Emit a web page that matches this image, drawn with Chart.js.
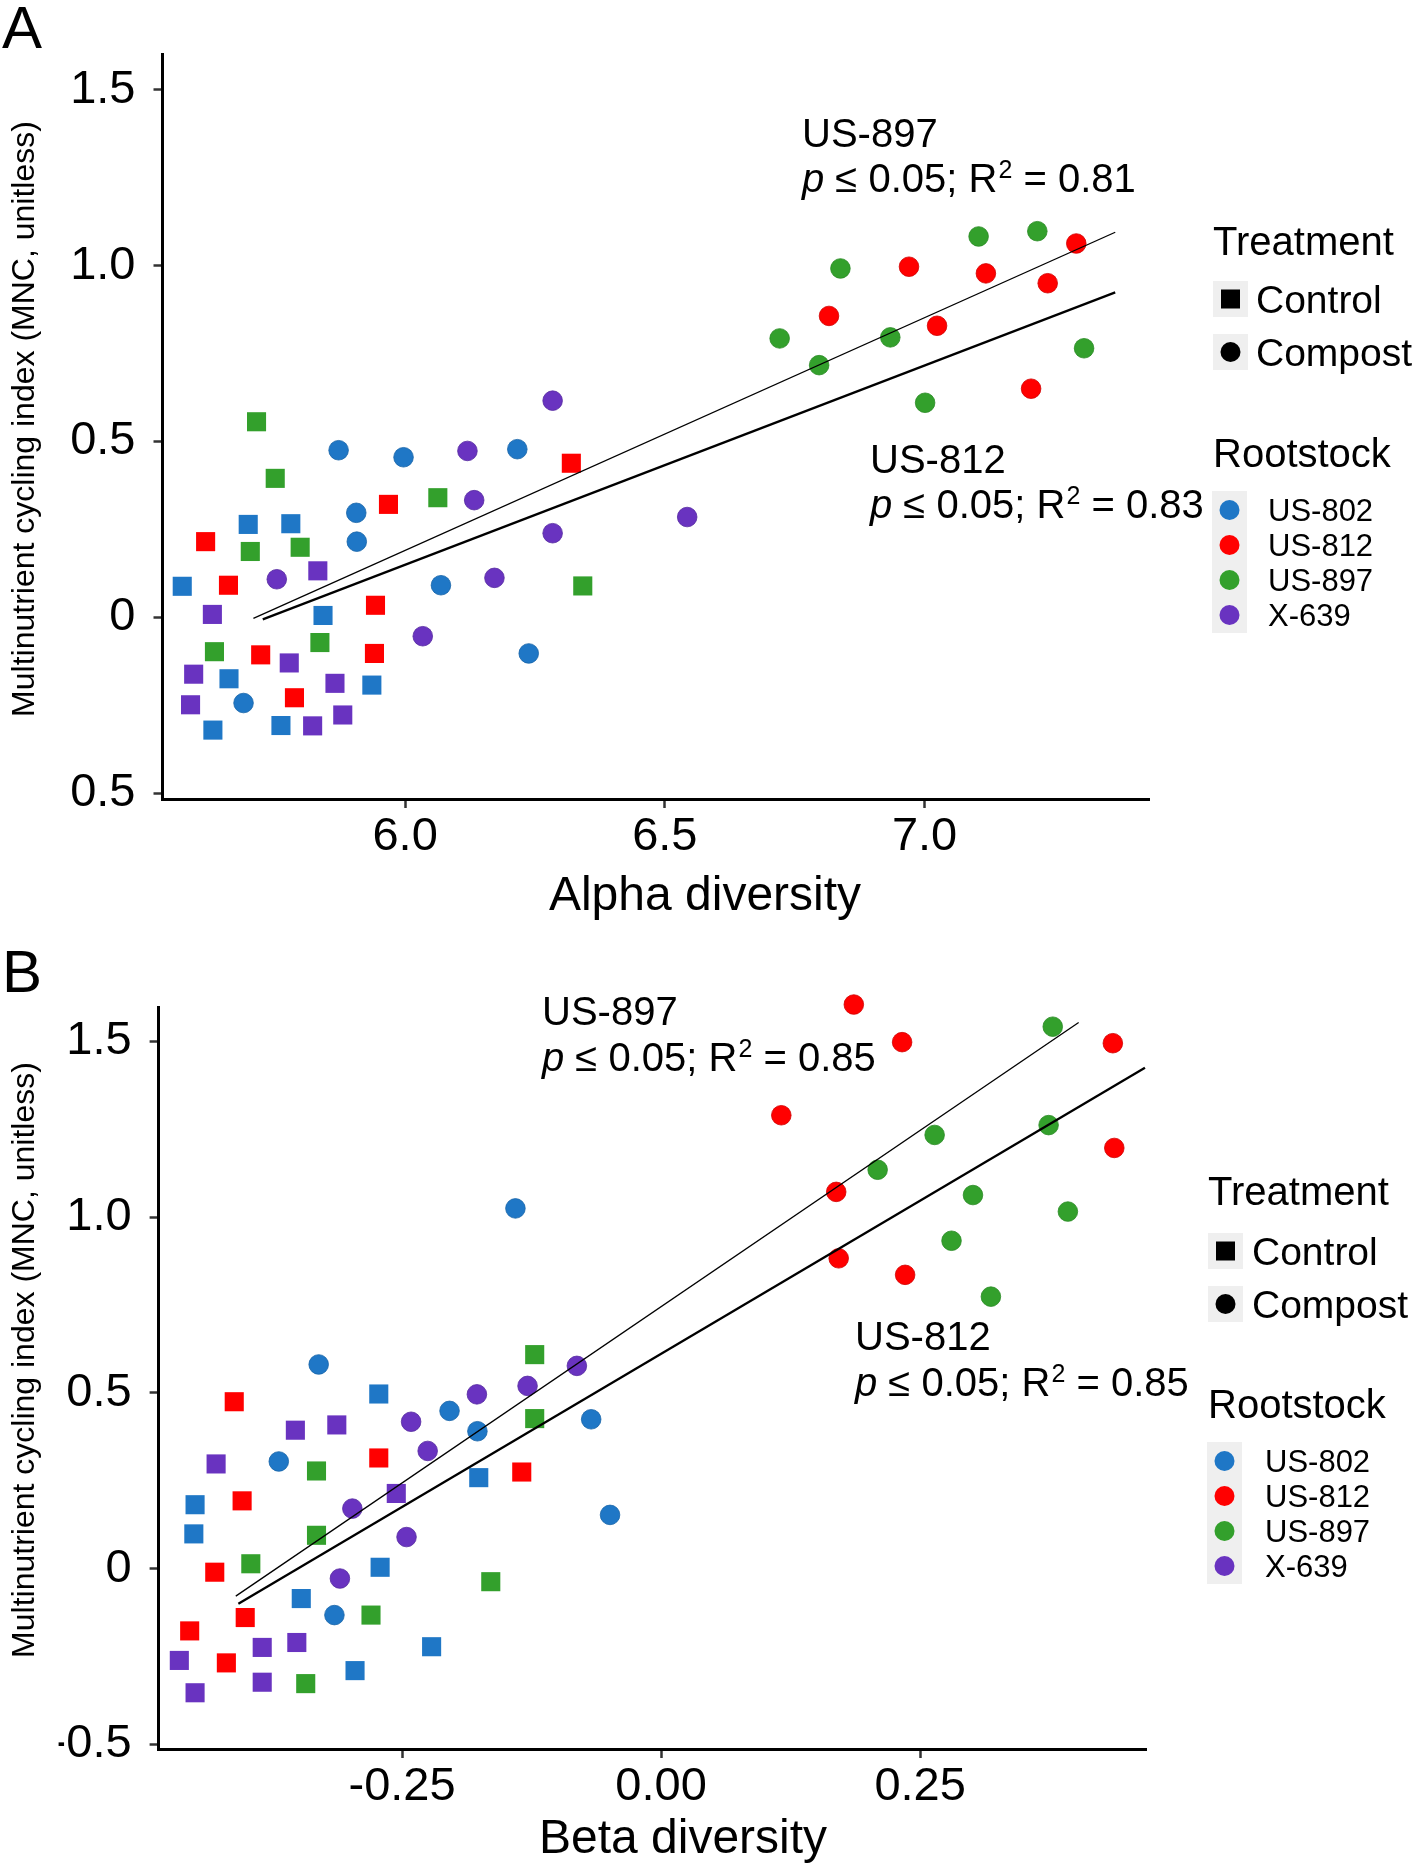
<!DOCTYPE html>
<html lang="en">
<head>
    <meta charset="UTF-8">
    <title>Multinutrient cycling vs. diversity</title>
    <script src="https://cdn.jsdelivr.net/npm/chart.js@4"></script>
    <style>
        body {
            margin: 0;
            background: #ffffff;
        }
        .panel {
            position: absolute;
            left: 0;
            width: 1416px;
            height: 933px;
        }
        #panelA { top: 0; }
        #panelB { top: 933px; }
    </style>
</head>
<body>
    <div class="panel" id="panelA"><canvas id="alphaChart" width="1416" height="933"></canvas></div>
    <div class="panel" id="panelB"><canvas id="betaChart" width="1416" height="933"></canvas></div>

    <script>
        // --- categories ---
        var rootstocks = ['US-802', 'US-812', 'US-897', 'X-639'];
        var treatments = ['Control', 'Compost'];
        var rootColors = ['#1F77C6', '#FF0000', '#33A02C', '#6933C0'];
        var rootEdges = ['#1865A8', '#D00000', '#2A8A25', '#56299F'];

        // --- panel A: alpha diversity (x) vs MNC (y) ---
        var alphaControl802 = [[5.698, 0.264], [5.780, 0.266], [5.571, 0.088], [5.842, 0.005], [5.661, -0.175], [5.936, -0.193], [5.630, -0.321], [5.761, -0.308]];
        var alphaControl812 = [[5.616, 0.215], [5.660, 0.091], [5.943, 0.034], [5.968, 0.321], [6.320, 0.438], [5.722, -0.107], [5.941, -0.103], [5.787, -0.229]];
        var alphaControl897 = [[5.714, 0.556], [5.750, 0.395], [5.702, 0.187], [5.798, 0.199], [6.063, 0.340], [6.342, 0.089], [5.633, -0.098], [5.836, -0.072]];
        var alphaControl639 = [[5.832, 0.132], [5.629, 0.008], [5.777, -0.130], [5.593, -0.162], [5.865, -0.188], [5.587, -0.249], [5.822, -0.309], [5.880, -0.278]];

        var alphaCompost802 = [[5.872, 0.475], [5.997, 0.455], [6.216, 0.478], [5.906, 0.297], [5.907, 0.215], [6.069, 0.091], [6.238, -0.103], [5.689, -0.244]];
        var alphaCompost812 = [[6.816, 0.857], [6.970, 0.997], [7.024, 0.829], [7.118, 0.978], [7.237, 0.950], [7.292, 1.063], [7.205, 0.650]];
        var alphaCompost897 = [[6.838, 0.992], [6.721, 0.793], [6.797, 0.717], [6.934, 0.796], [7.001, 0.610], [7.104, 1.083], [7.217, 1.098], [7.307, 0.765]];
        var alphaCompost639 = [[6.120, 0.473], [6.284, 0.616], [6.133, 0.333], [6.284, 0.239], [5.753, 0.108], [6.172, 0.112], [6.543, 0.285], [6.034, -0.054]];

        var alphaFit897 = [[5.708, -0.003], [7.367, 1.095]];
        var alphaFit812 = [[5.726, -0.006], [7.367, 0.924]];
        var alphaR2 = ['0.81', '0.83'];   // US-897, US-812

        var alphaXRange = [5.533, 7.432];
        var alphaYRange = [-0.517, 1.602];
        var alphaXTicks = [6.0, 6.5, 7.0];
        var alphaXLabels = ['6.0', '6.5', '7.0'];
        var alphaYTicks = [-0.5, 0, 0.5, 1.0, 1.5];
        var alphaYLabels = ['0.5', '0', '0.5', '1.0', '1.5'];

        // --- panel B: beta diversity (x) vs MNC (y) ---
        var betaControl802 = [[-0.2725, 0.497], [-0.176, 0.259], [-0.4498, 0.182], [-0.451, 0.099], [-0.2712, 0.004], [-0.3473, -0.085], [-0.2215, -0.222], [-0.2954, -0.290]];
        var betaControl812 = [[-0.412, 0.475], [-0.2725, 0.315], [-0.1345, 0.275], [-0.4044, 0.193], [-0.4308, -0.010], [-0.4014, -0.139], [-0.455, -0.177], [-0.4196, -0.268]];
        var betaControl897 = [[-0.122, 0.609], [-0.122, 0.427], [-0.3326, 0.278], [-0.3326, 0.095], [-0.396, 0.014], [-0.1644, -0.037], [-0.280, -0.132], [-0.343, -0.327]];
        var betaControl639 = [[-0.353, 0.394], [-0.313, 0.409], [-0.4295, 0.298], [-0.2556, 0.214], [-0.385, -0.224], [-0.3516, -0.210], [-0.465, -0.261], [-0.385, -0.323], [-0.4498, -0.353]];

        var betaCompost802 = [[-0.1406, 1.025], [-0.3305, 0.581], [-0.2042, 0.449], [-0.1773, 0.391], [-0.0675, 0.425], [-0.369, 0.305], [-0.0493, 0.153], [-0.3153, -0.132]];
        var betaCompost812 = [[0.186, 1.605], [0.2326, 1.498], [0.436, 1.495], [0.116, 1.290], [0.4374, 1.197], [0.169, 1.072], [0.1714, 0.883], [0.2355, 0.836]];
        var betaCompost897 = [[0.378, 1.542], [0.374, 1.262], [0.264, 1.234], [0.209, 1.135], [0.301, 1.063], [0.3926, 1.016], [0.2803, 0.933], [0.3183, 0.774]];
        var betaCompost639 = [[-0.0813, 0.577], [-0.1289, 0.520], [-0.1778, 0.496], [-0.2413, 0.418], [-0.2253, 0.335], [-0.298, 0.171], [-0.2457, 0.090], [-0.310, -0.028]];

        var betaFit897 = [[-0.4105, -0.078], [0.403, 1.554]];
        var betaFit812 = [[-0.408, -0.100], [0.467, 1.425]];
        var betaR2 = ['0.85', '0.85'];

        var betaXRange = [-0.485, 0.468];
        var betaYRange = [-0.513, 1.598];
        var betaXTicks = [-0.25, 0, 0.25];
        var betaXLabels = ['-0.25', '0.00', '0.25'];
        var betaYTicks = [-0.5, 0, 0.5, 1.0, 1.5];
        var betaYLabels = ['-0.5', '0', '0.5', '1.0', '1.5'];

        var yTitle = 'Multinutrient cycling index (MNC, unitless)';
        var FONT = '"Liberation Sans", Arial, Helvetica, sans-serif';

        function toXY(pairs) {
            return pairs.map(function (p) { return { x: p[0], y: p[1] }; });
        }

        // text, legend and panel letter drawn on top of the chart
        var decorPlugin = {
            id: 'decor',
            afterDraw: function (chart, args, o) {
                var ctx = chart.ctx;
                ctx.save();
                ctx.fillStyle = '#000';
                ctx.textBaseline = 'alphabetic';

                ctx.textAlign = 'left';
                ctx.font = '60px ' + FONT;
                ctx.fillText(o.letter, o.letterX, o.letterY);

                ctx.textAlign = 'center';
                ctx.font = '48px ' + FONT;
                ctx.fillText(o.xTitle, o.xTitleX, o.xTitleY);

                ctx.save();
                ctx.translate(o.yTitleX, o.yTitleY);
                ctx.rotate(-Math.PI / 2);
                ctx.font = '32px ' + FONT;
                ctx.fillText(yTitle, 0, 0);
                ctx.restore();

                ctx.textAlign = 'left';
                o.notes.forEach(function (n) {
                    ctx.font = '40px ' + FONT;
                    ctx.fillText(n.name, n.x, n.y1);
                    var x = n.x;
                    ctx.font = 'italic 40px ' + FONT;
                    ctx.fillText('p', x, n.y2);
                    x += ctx.measureText('p').width;
                    ctx.font = '40px ' + FONT;
                    var s1 = ' \u2264 0.05; R';
                    ctx.fillText(s1, x, n.y2);
                    x += ctx.measureText(s1).width;
                    ctx.font = '25px ' + FONT;
                    ctx.fillText('2', x + 1, n.y2 - 14);
                    x += ctx.measureText('2').width + 1;
                    ctx.font = '40px ' + FONT;
                    ctx.fillText(' = ' + n.r2, x, n.y2);
                });

                // legend
                var L = o.legend;
                ctx.font = '40px ' + FONT;
                ctx.fillText('Treatment', L.x, L.treatY);
                ctx.fillText('Rootstock', L.x, L.rootY);

                for (var t = 0; t < treatments.length; t++) {
                    var top = L.boxTops[t];
                    var cx = L.boxX + 17.5, cy = top + 18;
                    ctx.fillStyle = '#EFEFEF';
                    ctx.fillRect(L.boxX, top, 35, 36);
                    ctx.fillStyle = '#000';
                    if (t === 0) {
                        ctx.fillRect(cx - 9.5, cy - 9.5, 19, 19);
                    } else {
                        ctx.beginPath();
                        ctx.arc(cx, cy, 10, 0, Math.PI * 2);
                        ctx.fill();
                    }
                    ctx.font = '39px ' + FONT;
                    ctx.fillText(treatments[t], L.keyTextX, cy + 14);
                }

                ctx.fillStyle = '#EFEFEF';
                ctx.fillRect(L.colX, L.colTop, 35, 142);
                for (var r = 0; r < rootstocks.length; r++) {
                    var py = L.colTop + 19 + r * 35;
                    ctx.fillStyle = rootColors[r];
                    ctx.beginPath();
                    ctx.arc(L.colX + 17.5, py, 10, 0, Math.PI * 2);
                    ctx.fill();
                    ctx.fillStyle = '#000';
                    ctx.font = '31px ' + FONT;
                    ctx.fillText(rootstocks[r], L.itemTextX, py + 11);
                }
                ctx.restore();
            }
        };

        function buildDatasets(control, compost, fit897, fit812) {
            var sets = [
                { type: 'line', data: toXY(fit897), borderColor: '#000', borderWidth: 1.3, pointRadius: 0, fill: false, order: 0, clip: false },
                { type: 'line', data: toXY(fit812), borderColor: '#000', borderWidth: 2.3, pointRadius: 0, fill: false, order: 0, clip: false }
            ];
            for (var i = 0; i < rootstocks.length; i++) {
                sets.push({
                    label: rootstocks[i] + ' ' + treatments[0],
                    data: toXY(control[i]),
                    pointStyle: 'rect',
                    pointRadius: 13.5,
                    backgroundColor: rootColors[i],
                    borderColor: rootColors[i],
                    borderWidth: 0,
                    order: 1,
                    clip: false
                });
                sets.push({
                    label: rootstocks[i] + ' ' + treatments[1],
                    data: toXY(compost[i]),
                    pointStyle: 'circle',
                    pointRadius: 9.8,
                    backgroundColor: rootColors[i],
                    borderColor: rootEdges[i],
                    borderWidth: 0.8,
                    order: 1,
                    clip: false
                });
            }
            return sets;
        }

        function axis(range, ticks, labels, fixSize, pad, horizontal) {
            return {
                type: 'linear',
                min: range[0],
                max: range[1],
                afterBuildTicks: function (s) {
                    s.ticks = ticks.map(function (v) { return { value: v }; });
                },
                afterFit: function (s) {
                    if (horizontal) { s.height = fixSize; } else { s.width = fixSize; }
                },
                ticks: {
                    autoSkip: false,
                    maxRotation: 0,
                    padding: pad,
                    color: '#000',
                    font: { family: FONT, size: 47 },
                    callback: function (v, i) { return labels[i]; }
                },
                grid: {
                    display: true,
                    drawOnChartArea: false,
                    drawTicks: true,
                    tickLength: 9,
                    tickColor: '#333',
                    tickWidth: 2.5
                },
                border: { display: true, color: '#000', width: 3 }
            };
        }

        function makeChart(id, datasets, xAx, yAx, padding, decor) {
            return new Chart(document.getElementById(id), {
                type: 'scatter',
                data: { datasets: datasets },
                options: {
                    responsive: false,
                    animation: false,
                    layout: { padding: padding },
                    plugins: {
                        legend: { display: false },
                        tooltip: { enabled: false },
                        decor: decor
                    },
                    scales: { x: xAx, y: yAx }
                },
                plugins: [decorPlugin]
            });
        }

        // Panel A
        var alphaChart = makeChart('alphaChart',
            buildDatasets(
                [alphaControl802, alphaControl812, alphaControl897, alphaControl639],
                [alphaCompost802, alphaCompost812, alphaCompost897, alphaCompost639],
                alphaFit897, alphaFit812),
            axis(alphaXRange, alphaXTicks, alphaXLabels, 100, 1, true),
            axis(alphaYRange, alphaYTicks, alphaYLabels, 100, 18, false),
            { left: 62.5, right: 267, top: 54, bottom: 34 },
            {
                letter: 'A', letterX: 2, letterY: 48,
                xTitle: 'Alpha diversity', xTitleX: 705, xTitleY: 910,
                yTitleX: 34, yTitleY: 419,
                notes: [
                    { name: 'US-897', r2: alphaR2[0], x: 802, y1: 147, y2: 192 },
                    { name: 'US-812', r2: alphaR2[1], x: 870, y1: 473, y2: 518 }
                ],
                legend: { x: 1213, treatY: 255, rootY: 467, boxX: 1213, boxTops: [281, 334], keyTextX: 1256, colX: 1212, colTop: 491, itemTextX: 1268 }
            });

        // Panel B
        var betaChart = makeChart('betaChart',
            buildDatasets(
                [betaControl802, betaControl812, betaControl897, betaControl639],
                [betaCompost802, betaCompost812, betaCompost897, betaCompost639],
                betaFit897, betaFit812),
            axis(betaXRange, betaXTicks, betaXLabels, 100, 1, true),
            axis(betaYRange, betaYTicks, betaYLabels, 100, 18, false),
            { left: 58.6, right: 270, top: 74, bottom: 17 },
            {
                letter: 'B', letterX: 2, letterY: 59,
                xTitle: 'Beta diversity', xTitleX: 683, xTitleY: 920,
                yTitleX: 34, yTitleY: 427,
                notes: [
                    { name: 'US-897', r2: betaR2[0], x: 542, y1: 92, y2: 138 },
                    { name: 'US-812', r2: betaR2[1], x: 855, y1: 417, y2: 463 }
                ],
                legend: { x: 1208, treatY: 272, rootY: 485, boxX: 1208, boxTops: [300, 353], keyTextX: 1252, colX: 1207, colTop: 509, itemTextX: 1265 }
            });
    </script>
</body>
</html>
